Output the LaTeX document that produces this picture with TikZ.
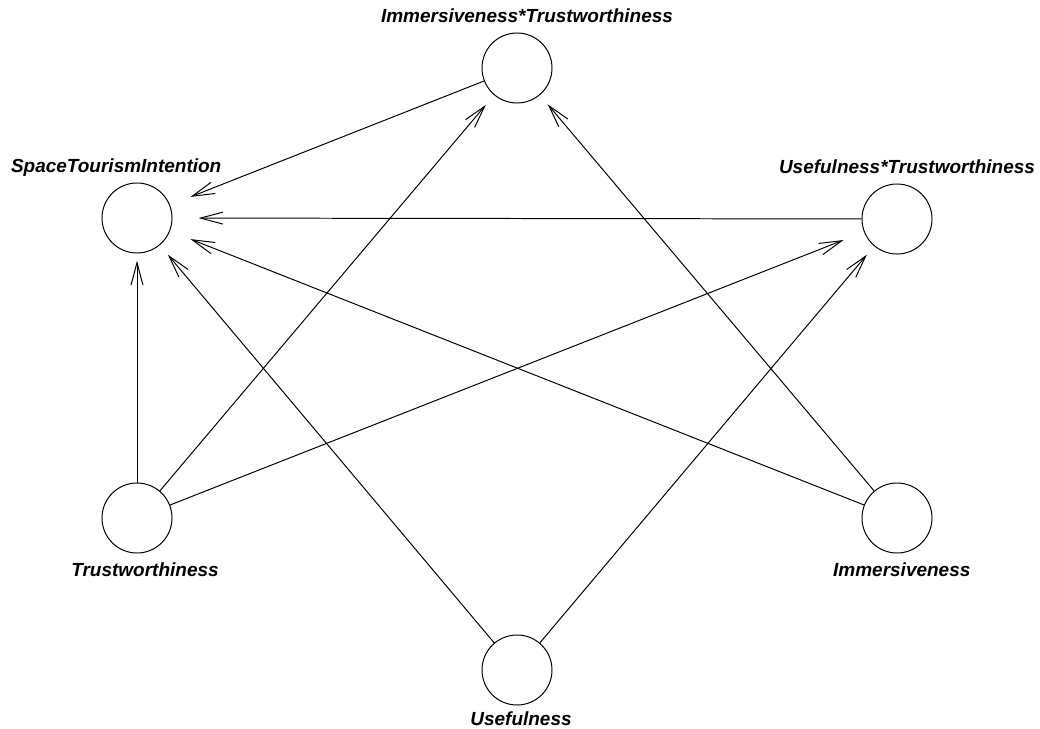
\documentclass[tikz,border=0pt]{standalone}
\usepackage{fontspec}
\setmainfont{Liberation Sans}
\usetikzlibrary{positioning,arrows.meta}

\begin{document}
\begin{tikzpicture}[
  x=0.025cm, y=-0.025cm,
  var/.style={circle, draw, line width=0.7pt, minimum size=1.75cm, inner sep=0pt},
  lab/.style={inner sep=0pt, text height=9.7pt, text depth=0pt,
    font=\fontsize{13.5}{15}\selectfont\bfseries\itshape},
  edge/.style={line width=0.7pt, -{Straight Barb[length=16pt,width=8.5pt]}}
  ]
  % 画布大小
  \useasboundingbox (0,0) rectangle (1040,729);
  % 定义六个变量圆
  \node[var] (it)  at (517,68)  {};
  \node[var] (sti) at (137,218) {};
  \node[var] (ut)  at (897,219) {};
  \node[var] (tr)  at (137,518) {};
  \node[var] (im)  at (897,518) {};
  \node[var] (us)  at (517,670) {};
  % 标记变量名称
  \node[lab, above=0.25cm of it, xshift=0.25cm]   (it-l)  {Immersiveness*Trustworthiness};
  \node[lab, above=0.25cm of sti, xshift=-0.52cm] (sti-l) {SpaceTourismIntention};
  \node[lab, above=0.25cm of ut, xshift=0.25cm]   (ut-l)  {Usefulness*Trustworthiness};
  \node[lab, below=0.22cm of tr, xshift=0.2cm]    (tr-l)  {Trustworthiness};
  \node[lab, below=0.22cm of im, xshift=0.12cm]   (im-l)  {Immersiveness};
  \node[lab, below=0.16cm of us, xshift=0.1cm]    (us-l)  {Usefulness};

  % 指向SpaceTourismIntention的路径
  \draw[edge, shorten >=0.55cm] (it) -- (sti);
  \draw[edge, shorten >=0.65cm] (ut) -- (sti);
  \draw[edge, shorten >=0.55cm] (im) -- (sti);
  \draw[edge, shorten >=0.31cm] (us) -- (sti);
  \draw[edge, shorten >=0.18cm] (tr) -- (sti);
  % 指向交互项的路径
  \draw[edge, shorten >=0.32cm] (tr) -- (it);
  \draw[edge, shorten >=0.30cm] (im) -- (it);
  \draw[edge, shorten >=0.55cm] (tr) -- (ut);
  \draw[edge, shorten >=0.28cm] (us) -- (ut);
\end{tikzpicture}
\end{document}
